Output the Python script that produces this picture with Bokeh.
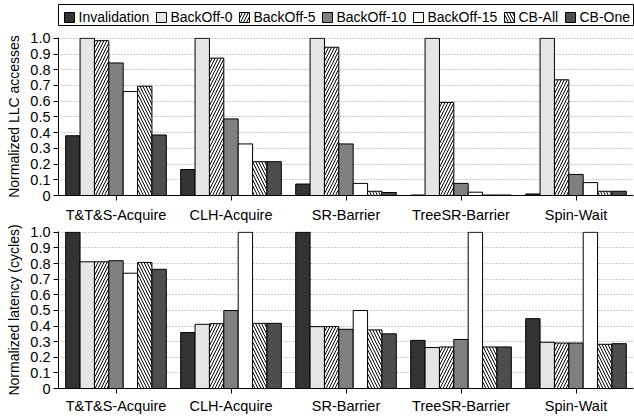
from bokeh.plotting import figure
from bokeh.models import FactorRange, Range1d, FixedTicker, PrintfTickFormatter, ColumnDataSource
from bokeh.core.properties import value
from bokeh.transform import dodge
from bokeh.layouts import column
from bokeh.embed import file_html
from bokeh.resources import INLINE

categories = ["T&T&S-Acquire", "CLH-Acquire", "SR-Barrier", "TreeSR-Barrier", "Spin-Wait"]
series = ["Invalidation", "BackOff-0", "BackOff-5", "BackOff-10", "BackOff-15", "CB-All", "CB-One"]

# Normalized LLC accesses
llc_invalidation = [0.38, 0.165, 0.073, 0.003, 0.01]
llc_backoff0 = [1.0, 1.0, 1.0, 1.0, 1.0]
llc_backoff5 = [0.985, 0.874, 0.943, 0.592, 0.736]
llc_backoff10 = [0.843, 0.487, 0.328, 0.077, 0.134]
llc_backoff15 = [0.661, 0.328, 0.077, 0.021, 0.082]
llc_cball = [0.695, 0.215, 0.027, 0.003, 0.027]
llc_cbone = [0.385, 0.215, 0.019, 0.003, 0.027]

# Normalized latency (cycles)
lat_invalidation = [1.0, 0.358, 1.0, 0.308, 0.447]
lat_backoff0 = [0.811, 0.411, 0.396, 0.262, 0.296]
lat_backoff5 = [0.811, 0.415, 0.396, 0.266, 0.291]
lat_backoff10 = [0.818, 0.499, 0.379, 0.314, 0.291]
lat_backoff15 = [0.738, 1.0, 0.499, 1.0, 1.0]
lat_cball = [0.807, 0.417, 0.375, 0.266, 0.283]
lat_cbone = [0.763, 0.417, 0.350, 0.266, 0.287]

y_ticks = [0, 0.1, 0.2, 0.3, 0.4, 0.5, 0.6, 0.7, 0.8, 0.9, 1.0]

# styles
fill_colors = ["#333333", "#e5e5e5", "#ffffff", "#808080", "#ffffff", "#ffffff", "#4d4d4d"]
hatches = [None, None, "/", None, None, "\\", None]
legend_x = [6, 98, 181, 264, 355, 446, 507]   # legend entry offsets (px) inside the legend box

FONT = "Liberation Sans"
BAR_W = 0.125


def bar_style(j):
    kw = dict(fill_color=fill_colors[j], line_color="black", line_width=1)
    if hatches[j]:
        kw.update(hatch_pattern=hatches[j], hatch_color="black", hatch_scale=6, hatch_weight=1)
    return kw


def make_fig(height, ylabel, values, min_top, xstand):
    src = ColumnDataSource(dict(cat=categories, **{f"s{j}": v for j, v in enumerate(values)}))
    p = figure(x_range=FactorRange(*categories, range_padding=0), y_range=Range1d(0, 1.005),
               width=634, height=height, output_backend="svg", toolbar_location=None,
               min_border_left=58, min_border_right=0, min_border_top=min_top, min_border_bottom=0)
    p.outline_line_color = None
    p.background_fill_color = "white"
    p.border_fill_color = "white"
    p.xgrid.grid_line_color = None
    p.ygrid.grid_line_color = "#999999"
    p.ygrid.grid_line_dash = "1 2"
    p.ygrid.grid_line_width = 1
    p.ygrid.ticker = FixedTicker(ticks=y_ticks[1:])
    for j in range(len(series)):
        off = (j - 3) * BAR_W
        p.vbar(x=dodge("cat", off, range=p.x_range), top=f"s{j}", width=BAR_W, source=src, **bar_style(j))
    xa = p.xaxis[0]
    xa.axis_line_color = "black"
    xa.major_tick_line_color = "black"
    xa.major_tick_out = 5
    xa.major_tick_in = 0
    xa.minor_tick_line_color = None
    xa.major_label_standoff = xstand
    xa.major_label_text_font = FONT
    xa.major_label_text_font_size = "14.5px"
    xa.major_label_text_color = "black"
    ya = p.yaxis[0]
    ya.ticker = FixedTicker(ticks=y_ticks)
    ya.formatter = PrintfTickFormatter(format="%.1f")
    ya.major_label_overrides = {0: "0"}
    ya.axis_line_color = "black"
    ya.major_tick_line_color = "black"
    ya.major_tick_out = 5
    ya.major_tick_in = 0
    ya.minor_tick_line_color = None
    ya.major_label_standoff = 3
    ya.major_label_text_font = FONT
    ya.major_label_text_font_size = "14.5px"
    ya.major_label_text_color = "black"
    ya.axis_label = ylabel
    ya.axis_label_text_font = FONT
    ya.axis_label_text_font_size = "14px"
    ya.axis_label_text_font_style = "normal"
    ya.axis_label_text_color = "black"
    ya.axis_label_standoff = 5
    return p


llc_values = [llc_invalidation, llc_backoff0, llc_backoff5, llc_backoff10, llc_backoff15, llc_cball, llc_cbone]
lat_values = [lat_invalidation, lat_backoff0, lat_backoff5, lat_backoff10, lat_backoff15, lat_cball, lat_cbone]

# legend strip: a boxed frame whose data units are pixels
LEG_W, LEG_H = 575, 21
leg = figure(frame_width=LEG_W, frame_height=LEG_H, x_range=Range1d(0, LEG_W), y_range=Range1d(0, LEG_H),
             x_axis_type=None, y_axis_type=None, title=None,
             output_backend="svg", toolbar_location=None,
             min_border_left=58, min_border_right=1, min_border_top=4, min_border_bottom=2)
leg.grid.visible = False
leg.outline_line_color = "black"
leg.outline_line_width = 1
leg.border_fill_color = "white"
leg.background_fill_color = "white"
for j in range(len(series)):
    leg.rect(x=[legend_x[j] + 5], y=[8], width=10, height=10,
             width_units="screen", height_units="screen", **bar_style(j))
leg.text(x=[lx + 14 for lx in legend_x], y=[8.5] * len(series), text=series,
         text_font=value(FONT), text_font_size="14px", text_color="black",
         text_baseline="middle", text_align="left")

top = make_fig(198, "Normalized LLC accesses", llc_values, 10, 6)
bottom = make_fig(191, "Normalized latency (cycles)", lat_values, 6, 4)

layout = column(leg, top, bottom, spacing=0)
open("out.html", "w").write(file_html(layout, INLINE))
